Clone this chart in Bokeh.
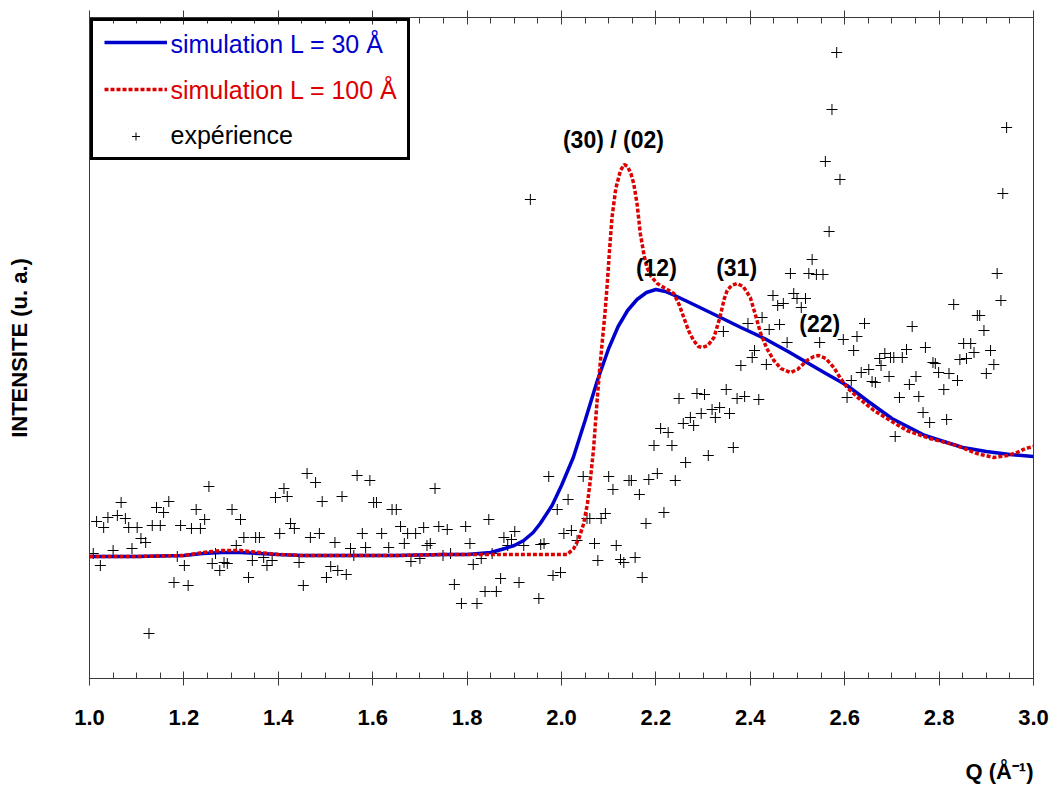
from bokeh.plotting import figure
from bokeh.models import Range1d, LinearAxis, FixedTicker, Legend, LegendItem, Label, Title
from bokeh.embed import file_html
from bokeh.resources import INLINE

# ---------------- data ----------------
x_ticks = [1.0, 1.2, 1.4, 1.6, 1.8, 2.0, 2.2, 2.4, 2.6, 2.8, 3.0]
x_tick_labels = ["1.0", "1.2", "1.4", "1.6", "1.8", "2.0", "2.2", "2.4", "2.6", "2.8", "3.0"]

sim30_q = [1.00, 1.10, 1.20, 1.24, 1.28, 1.32, 1.36, 1.40, 1.45, 1.55,
           1.65, 1.75, 1.80, 1.85, 1.88, 1.90, 1.92, 1.94, 1.955, 1.98,
           2.00, 2.025, 2.05, 2.076, 2.10, 2.12, 2.14, 2.16, 2.18, 2.20,
           2.22, 2.24, 2.28, 2.337, 2.38, 2.43, 2.48, 2.52, 2.56, 2.605,
           2.65, 2.70, 2.77, 2.85, 2.90, 2.95, 3.00]
sim30_i = [12.2, 12.2, 12.3, 12.5, 12.6, 12.6, 12.5, 12.4, 12.3, 12.3,
           12.3, 12.4, 12.4, 12.6, 13.0, 13.3, 13.8, 14.6, 15.5, 17.3,
           19.3, 22.1, 25.8, 29.8, 33.0, 35.2, 36.8, 37.9, 38.6, 38.9,
           38.7, 38.3, 37.4, 36.1, 35.1, 34.0, 32.7, 31.6, 30.5, 29.3,
           27.7, 26.0, 24.3, 23.1, 22.7, 22.4, 22.2]

sim100_q = [1.00, 1.10, 1.20, 1.24, 1.28, 1.32, 1.36, 1.40, 1.45, 1.55,
            1.65, 1.75, 1.85, 1.95, 2.012, 2.026, 2.037, 2.047, 2.055, 2.061,
            2.068, 2.075, 2.08, 2.086, 2.092, 2.097, 2.102, 2.107, 2.115, 2.125,
            2.133, 2.14, 2.147, 2.153, 2.16, 2.167, 2.175, 2.181, 2.19, 2.203,
            2.22, 2.238, 2.25, 2.259, 2.27, 2.28, 2.29, 2.298, 2.31, 2.323,
            2.335, 2.345, 2.351, 2.36, 2.372, 2.385, 2.40, 2.41, 2.422, 2.435,
            2.45, 2.465, 2.485, 2.50, 2.52, 2.535, 2.545, 2.56, 2.577, 2.59,
            2.605, 2.63, 2.662, 2.70, 2.732, 2.78, 2.838, 2.88, 2.916, 2.944,
            2.965, 2.983, 3.00]
sim100_i = [12.2, 12.2, 12.3, 12.6, 12.8, 12.8, 12.6, 12.4, 12.3, 12.3,
            12.3, 12.4, 12.4, 12.4, 12.4, 13.0, 14.0, 15.5, 17.5, 19.8,
            23.0, 27.5, 30.5, 33.5, 36.5, 39.5, 43.0, 46.1, 49.0, 50.8,
            51.4, 51.2, 50.5, 49.5, 47.5, 44.5, 42.3, 41.1, 40.2, 39.5,
            39.0, 38.5, 37.3, 36.1, 34.7, 33.8, 33.2, 33.1, 33.3, 34.1,
            36.0, 38.0, 38.8, 39.3, 39.5, 39.2, 38.1, 36.5, 34.5, 33.0,
            31.8, 31.0, 30.6, 30.9, 31.8, 32.2, 32.3, 32.0, 31.1, 30.1,
            29.1, 28.0, 26.8, 25.7, 24.8, 24.0, 23.3, 22.5, 22.1, 22.3,
            22.6, 23.0, 23.2]

exp_q = [1.008, 1.015, 1.023, 1.030, 1.039, 1.050, 1.059, 1.067, 1.076, 1.083,
         1.090, 1.101, 1.109, 1.119, 1.126, 1.133, 1.142, 1.150, 1.157, 1.168,
         1.179, 1.186, 1.193, 1.201, 1.209, 1.216, 1.226, 1.235, 1.244, 1.253,
         1.260, 1.267, 1.276, 1.285, 1.292, 1.302, 1.311, 1.320, 1.327, 1.337,
         1.345, 1.352, 1.360, 1.369, 1.376, 1.387, 1.394, 1.403, 1.412, 1.419,
         1.426, 1.434, 1.444, 1.453, 1.461, 1.468, 1.479, 1.487, 1.493, 1.502,
         1.511, 1.520, 1.526, 1.535, 1.544, 1.553, 1.560, 1.567, 1.578, 1.585,
         1.594, 1.602, 1.608, 1.619, 1.634, 1.641, 1.650, 1.659, 1.667, 1.674,
         1.681, 1.691, 1.700, 1.708, 1.715, 1.722, 1.732, 1.740, 1.749, 1.758,
         1.765, 1.773, 1.788, 1.797, 1.806, 1.813, 1.821, 1.830, 1.838, 1.846,
         1.853, 1.862, 1.871, 1.878, 1.886, 1.894, 1.901, 1.910, 1.920, 1.952,
         1.934,
         1.973, 1.991, 2.014, 2.005, 2.021, 2.033, 1.963, 1.956, 1.982, 1.998,
         2.046, 2.054, 2.060, 2.084, 2.093, 2.070, 2.077, 2.100, 2.109, 2.116,
         2.125, 2.132, 2.143, 2.148, 2.156, 2.165, 2.171, 2.179, 2.185, 2.203,
         2.217, 2.241, 2.263, 2.311, 2.364, 2.196, 2.234, 2.210, 2.226, 2.258,
         2.273, 2.280, 2.296, 2.319, 2.335, 2.326, 2.356, 2.249, 2.287, 2.303,
         2.349, 2.372, 2.388, 2.418, 2.605, 2.716, 2.757, 2.766, 2.780, 2.816,
         2.707, 2.810, 2.658,
         2.559, 2.590, 2.567, 2.531, 2.485, 2.524, 2.540, 2.554, 2.492, 2.448,
         2.499, 2.517, 2.458, 2.470, 2.508, 2.343, 2.395, 2.425, 2.440, 2.462,
         2.478, 2.547, 2.597, 2.626, 2.642, 2.619, 2.743, 2.771, 2.831, 2.881,
         2.886, 2.895, 2.923, 2.931, 2.935, 2.852, 2.867, 2.874, 2.844, 2.858,
         2.909, 2.916, 2.900, 2.409, 2.404, 2.380, 2.434, 2.674, 2.685, 2.697,
         2.704, 2.722, 2.731, 2.677, 2.635, 2.651, 2.665, 2.614, 2.694, 2.751,
         2.737, 2.787, 2.792, 2.799, 2.821, 2.839,
         2.583, 2.573, 2.943]
exp_i = [12.5, 15.7, 11.3, 15.1, 16.1, 12.8, 16.3, 17.6, 16.0, 15.1,
         13.0, 15.1, 14.0, 13.6, 4.5, 15.3, 17.1, 15.3, 16.6, 17.7,
         9.6, 12.2, 15.3, 11.3, 9.3, 15.0, 16.9, 15.0, 15.9, 19.2,
         11.5, 12.5, 10.8, 11.6, 11.5, 16.9, 13.3, 15.9, 14.1, 10.1,
         11.8, 14.1, 14.1, 12.1, 11.3, 11.8, 18.1, 14.5, 19.0, 18.2,
         15.5, 15.0, 11.6, 9.3, 20.5, 14.1, 19.6, 14.5, 17.7, 10.1,
         11.2, 13.6, 10.8, 18.2, 10.4, 13.0, 12.3, 20.3, 14.5, 13.1,
         19.8, 17.6, 17.6, 14.5, 13.1, 16.9, 16.9, 15.2, 13.5, 14.5,
         11.7, 14.5, 12.0, 15.1, 13.3, 13.5, 19.0, 15.2, 12.3, 14.9,
         12.5, 9.4, 7.5, 15.2, 13.5, 11.4, 7.5, 12.0, 8.7, 15.9,
         12.5, 8.7, 10.0, 14.1, 13.3, 13.9, 14.7, 9.6, 13.3, 8.0,
         47.9,
         20.2, 16.9, 17.9, 14.5, 14.8, 13.8, 13.5, 13.4, 10.3, 10.6,
         20.2, 16.0, 16.0, 16.0, 16.5, 13.5, 11.8, 20.2, 18.9, 13.3,
         11.9, 11.6, 19.8, 19.8, 12.1, 18.4, 10.1, 15.5, 19.9, 20.5,
         16.6, 19.8, 21.6, 22.3, 23.1, 23.3, 23.3, 25.0, 24.6, 25.5,
         26.1, 25.3, 26.5, 26.9, 27.1, 26.1, 26.5, 28.0, 28.5, 28.4,
         28.9, 28.0, 28.2, 27.9, 28.1, 28.1, 28.2, 26.6, 25.6, 25.9,
         24.2, 28.9, 29.7,
         51.7, 49.9, 44.7, 41.9, 40.5, 40.5, 40.4, 40.4, 38.5, 38.3,
         38.0, 38.0, 37.3, 37.5, 37.1, 34.7, 35.5, 36.1, 34.9, 35.4,
         33.6, 33.6, 33.9, 34.2, 35.5, 32.8, 35.2, 33.1, 37.4, 36.3,
         36.3, 34.8, 40.5, 37.8, 48.5, 33.5, 33.5, 32.6, 31.9, 32.0,
         32.8, 31.4, 30.5, 32.8, 32.1, 31.3, 31.4, 32.0, 32.5, 32.1,
         32.1, 32.1, 32.9, 31.3, 30.6, 30.9, 29.6, 29.8, 30.2, 30.2,
         29.4, 31.6, 31.5, 30.6, 30.5, 29.8,
         62.6, 56.9, 55.1]

series_names = ["simulation  L = 30 Å", "simulation  L = 100 Å", "expérience"]
peak_labels = ["(30) / (02)", "(12)", "(31)", "(22)"]
peak_q = [2.110, 2.201, 2.371, 2.547]
peak_i = [53.9, 41.1, 41.1, 35.5]

# ---------------- figure ----------------
FONT = "Liberation Sans"
BLUE = "#0000CC"
RED = "#DD0000"
AX = "#3a3a3a"

p = figure(frame_width=944, frame_height=661,
           min_border_left=89, min_border_right=20, min_border_top=17, min_border_bottom=115,
           x_range=Range1d(1.0, 3.0), y_range=Range1d(0, 66.1),
           x_axis_location=None, y_axis_location=None,
           output_backend="svg", toolbar_location=None)
p.grid.visible = False
p.background_fill_color = "white"
p.border_fill_color = "white"
p.outline_line_color = AX
p.outline_line_width = 1

minor = [round(1.0 + 0.05 * k, 2) for k in range(41)]

xb = LinearAxis(ticker=FixedTicker(ticks=x_ticks, minor_ticks=minor))
xb.major_label_overrides = {t: s for t, s in zip(x_ticks, x_tick_labels)}
xb.major_label_text_font = FONT
xb.major_label_text_font_style = "bold"
xb.major_label_text_font_size = "22px"
xb.major_label_text_color = "black"
xb.major_label_standoff = 24
xb.axis_line_color = AX
xb.major_tick_line_color = AX
xb.minor_tick_line_color = AX
xb.major_tick_in = 7
xb.major_tick_out = 7
xb.minor_tick_in = 6
xb.minor_tick_out = 0
p.add_layout(xb, "below")

p.add_layout(Title(text="Q (Å⁻¹)", align="right", text_font=FONT, text_font_size="22px",
                   text_font_style="bold", text_color="black", standoff=58), "below")

xt = LinearAxis(ticker=FixedTicker(ticks=x_ticks, minor_ticks=minor))
xt.major_label_overrides = {t: "" for t in x_ticks}
xt.major_label_text_font_size = "0px"
xt.major_label_standoff = 0
xt.axis_line_color = AX
xt.major_tick_line_color = AX
xt.minor_tick_line_color = AX
xt.major_tick_in = 7
xt.major_tick_out = 7
xt.minor_tick_in = 6
xt.minor_tick_out = 0
p.add_layout(xt, "above")

yl = LinearAxis(ticker=FixedTicker(ticks=[]))
yl.axis_label = "INTENSITE (u. a.)"
yl.axis_label_text_font = FONT
yl.axis_label_text_font_style = "bold"
yl.axis_label_text_font_size = "22px"
yl.axis_label_text_color = "black"
yl.axis_label_standoff = 58
yl.axis_line_color = AX
yl.major_tick_line_color = None
yl.minor_tick_line_color = None
p.add_layout(yl, "left")

# ---------------- data renderers ----------------
r_exp = p.scatter(exp_q, exp_i, marker="cross", size=11, line_color="black", line_width=1)
r30 = p.line(sim30_q, sim30_i, line_color=BLUE, line_width=3.5)
r100 = p.line(sim100_q, sim100_i, line_color=RED, line_width=3.5, line_dash="4 2")

legend = Legend(items=[LegendItem(label=" ", renderers=[r30]),
                       LegendItem(label=" ", renderers=[r100]),
                       LegendItem(label=" ", renderers=[r_exp])],
                location="top_left", margin=1, padding=11, spacing=27,
                glyph_width=63, glyph_height=20, label_width=224, label_height=20,
                label_standoff=5, label_text_font_size="10px",
                border_line_color="black", border_line_width=3, border_line_alpha=1.0,
                background_fill_color="white", background_fill_alpha=0.0)
p.add_layout(legend)

for name, yy, col in zip(series_names, [63.5, 58.9, 54.4], [BLUE, RED, "black"]):
    p.add_layout(Label(x=1.1716, y=yy, text=name, text_font=FONT, text_font_size="25px",
                       text_color=col, text_baseline="alphabetic", text_align="left",
                       level="overlay"))

for txt, qq, ii in zip(peak_labels, peak_q, peak_i):
    p.add_layout(Label(x=qq, y=ii, text=txt, text_font=FONT, text_font_size="23px",
                       text_font_style="bold", text_color="black",
                       text_align="center", text_baseline="middle"))

open("out.html", "w").write(file_html(p, INLINE))
